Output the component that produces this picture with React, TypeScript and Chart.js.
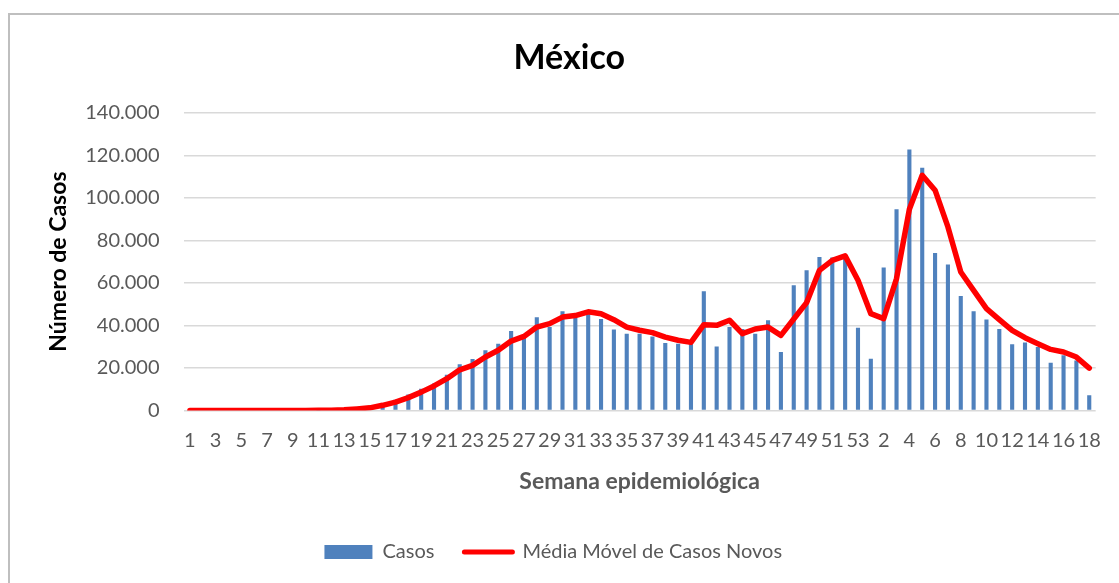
import React, { useEffect, useRef } from "react";
import { Chart, registerables } from "chart.js";

Chart.register(...registerables);

const weeks2020: string[] = Array.from({ length: 53 }, (_, i) => String(i + 1));
const weeks2021: string[] = Array.from({ length: 18 }, (_, i) => String(i + 1));
const categories: string[] = [...weeks2020, ...weeks2021];

// Weekly new cases (bars)
const casos: number[] = [
  // 2020 weeks 1-53
  0, 0, 0, 0, 0, 0, 0, 0, 0, 0,
  50, 150, 300, 700, 1200, 1800, 5000, 7500, 10200, 12700,
  16800, 21700, 24200, 28300, 31400, 37400, 34800, 43800, 39200, 46600,
  43500, 46600, 43000, 38100, 36100, 36100, 34800, 31700, 31400, 31400,
  56000, 30100, 39200, 38300, 36100, 42400, 27500, 58900, 65900, 72200,
  71900, 73000, 38900,
  // 2021 weeks 1-18
  24300, 67200, 94600, 122700, 114100, 74100, 68600, 53800, 46600, 42800,
  38300, 31100, 32000, 29800, 22400, 25900, 23500, 7100,
];

// Moving average of new cases (line)
const mediaMovel: number[] = [
  // 2020 weeks 1-53
  0, 0, 0, 0, 0, 0, 0, 0, 0, 0,
  20, 80, 300, 700, 1200, 2400, 3900, 6000, 8600, 11500,
  14900, 19100, 21200, 25100, 28300, 32600, 34800, 39200, 40800, 43900,
  44600, 46400, 45500, 42700, 39200, 37700, 36600, 34500, 33000, 32000,
  40300, 40000, 42400, 36100, 38300, 39200, 35300, 43000, 50700, 65900,
  70600, 72700, 61200,
  // 2021 weeks 1-18
  45500, 43200, 62000, 94600, 110600, 103600, 86300, 65100, 56500, 47900,
  42700, 37700, 34200, 31400, 28700, 27500, 25100, 19900,
];

const yTicks: number[] = [0, 20000, 40000, 60000, 80000, 100000, 120000, 140000];

const FONT = "Lato, 'Open Sans', sans-serif";
const GRAY = "#595959";

function fmt(v: number): string {
  return String(Math.round(v)).replace(/\B(?=(\d{3})+(?!\d))/g, ".");
}

const shiftTitle = {
  id: "shiftTitle",
  afterLayout(chart: any) {
    const t = chart.titleBlock;
    if (t) {
      t.left += 16;
      t.right += 16;
    }
  },
};

export default function App() {
  const ref = useRef<HTMLCanvasElement | null>(null);

  useEffect(() => {
    if (!ref.current) return;
    document.body.style.overflow = "hidden";
    const chart = new Chart(ref.current, {
      type: "bar",
      data: {
        labels: categories,
        datasets: [
          {
            type: "bar",
            label: "Casos",
            data: casos,
            backgroundColor: "#4f81bd",
            borderWidth: 0,
            barPercentage: 0.32,
            categoryPercentage: 1,
            order: 1,
          },
          {
            type: "line",
            label: "Média Móvel de Casos Novos",
            data: mediaMovel,
            borderColor: "#ff0000",
            backgroundColor: "#ff0000",
            borderWidth: 5.5,
            pointRadius: 0,
            tension: 0,
            borderCapStyle: "round",
            borderJoinStyle: "round",
            order: 0,
          } as any,
        ],
      },
      plugins: [shiftTitle],
      options: {
        responsive: false,
        animation: false,
        layout: { padding: { left: 0, right: 22.5, top: 0, bottom: 11 } },
        plugins: {
          tooltip: { enabled: false },
          title: {
            display: true,
            text: "México",
            color: "#000000",
            font: { family: FONT, size: 34, weight: "bold" },
            padding: { top: 23, bottom: 34 },
          },
          legend: {
            display: true,
            position: "bottom",
            labels: {
              color: GRAY,
              font: { family: FONT, size: 20 },
              usePointStyle: true,
              pointStyleWidth: 48,
              boxHeight: 14,
              padding: 30,
              sort: (a: any, b: any) => a.datasetIndex - b.datasetIndex,
              generateLabels: (c: any) => {
                const items = Chart.defaults.plugins.legend.labels.generateLabels(c);
                return items.map((it: any) => {
                  if (it.datasetIndex === 1) {
                    it.pointStyle = "line";
                    it.lineWidth = 5;
                    it.strokeStyle = "#ff0000";
                    it.lineCap = "round";
                  } else {
                    it.pointStyle = "rect";
                    it.lineWidth = 0;
                  }
                  return it;
                });
              },
            },
          },
        },
        scales: {
          x: {
            grid: { display: false, drawTicks: false },
            border: { display: false },
            ticks: {
              autoSkip: false,
              maxRotation: 0,
              minRotation: 0,
              padding: 18,
              color: GRAY,
              font: { family: FONT, size: 20 },
              callback: (_v: any, i: number) => (i % 2 === 0 ? categories[i] : ""),
            },
            title: {
              display: true,
              text: "Semana epidemiológica",
              color: GRAY,
              font: { family: FONT, size: 23, weight: "bold" },
              padding: { top: -3, bottom: 17 },
            },
          },
          y: {
            min: 0,
            max: 140000,
            afterFit: (s: any) => {
              s.width = 173.5;
            },
            afterBuildTicks: (s: any) => {
              s.ticks = yTicks.map((v) => ({ value: v }));
            },
            grid: { color: "#d9d9d9", lineWidth: 1.5, drawTicks: false },
            border: { display: false },
            ticks: {
              padding: 24,
              color: GRAY,
              font: { family: FONT, size: 20 },
              callback: (v: any) => fmt(Number(v)),
            },
            title: {
              display: true,
              text: "Número de Casos",
              color: "#000000",
              font: { family: FONT, size: 23, weight: "bold" },
              padding: { top: 35, bottom: 0 },
            },
          },
        },
      },
    });
    return () => chart.destroy();
  }, []);

  return (
    <div
      style={{
        position: "absolute",
        left: 8,
        top: 13,
        width: 1109,
        height: 568,
        borderTop: "2px solid #bfbfbf",
        borderLeft: "2px solid #bfbfbf",
        background: "#ffffff",
      }}
    >
      <canvas ref={ref} width={1109} height={568} style={{ display: "block" }} />
    </div>
  );
}
